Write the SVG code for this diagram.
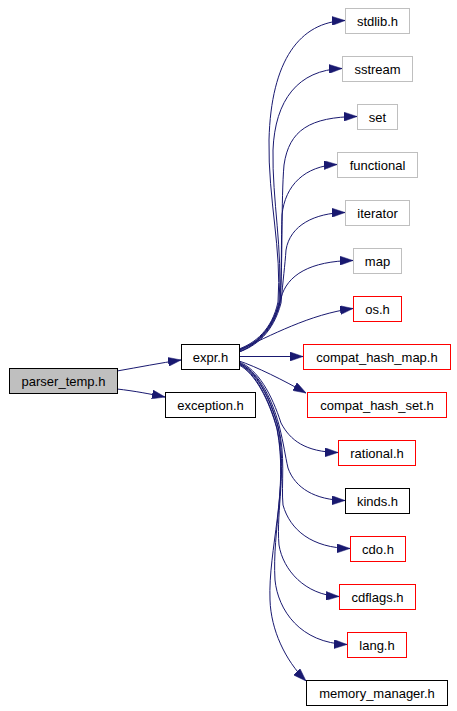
<svg xmlns="http://www.w3.org/2000/svg" width="457" height="711" viewBox="0 0 457 711">
<style>
.n rect{fill:#ffffff;stroke-width:1}
.k rect{stroke:#000000}
.g rect{stroke:#bfbfbf}
.r rect{stroke:#ff0000}
.root rect{fill:#bfbfbf;stroke:#000000}
text{font-family:"Liberation Sans",Arial,sans-serif;font-size:13px;fill:#000000;text-anchor:middle}
#edges path{fill:none;stroke:#191970;stroke-width:1;marker-end:url(#arr)}
</style>
<defs>
<marker id="arr" markerUnits="userSpaceOnUse" viewBox="0 0 13 9" markerWidth="13" markerHeight="9" refX="13" refY="4.5" orient="auto">
<path d="M0,0 L13,4.5 L0,9 Z" fill="#191970" stroke="#191970" stroke-width="0.5"/>
</marker>
</defs>
<rect width="457" height="711" fill="#ffffff"/>
<g id="edges">
<path d="M117,371 C140,367 160,363 181,360"/>
<path d="M117,389 C135,391 150,394 165,397"/>
<path d="M239,349 C255,343 272,330 278,302 C282,250 268,200 269,140 C271,60 300,22 345,20.5"/>
<path d="M239,350 C255,344 272,331 279,302 C283,250 272,200 273,150 C275,100 298,70 342,68.5"/>
<path d="M239,350 C256,344 273,331 280,302 C283,260 281,200 284,165 C289,130 310,117 357,116.5"/>
<path d="M239,351 C256,345 273,332 280,303 C282,270 281,240 282,215 C285,185 305,166 337,164.5"/>
<path d="M239,352 C256,346 273,333 281,303 C283,280 285,265 286,250 C290,225 315,213 345,212.5"/>
<path d="M239,352 C255,346 272,331 281,298 C287,275 310,261 353,260.5"/>
<path d="M239,350 C270,336 310,314 353,308.5"/>
<path d="M239,356.5 L303,356.5"/>
<path d="M239,361 C255,366 285,381 306,393"/>
<path d="M239,362 C258,369 272,395 281,423 C290,440 305,452 338,452.5"/>
<path d="M239,363 C257,370 271,396 279,425 C284,445 285,455 288,468 C295,488 315,500 345,500.5"/>
<path d="M239,363 C256,370 270,397 278,426 C286,455 281,485 283,505 C290,530 312,548 350,548.5"/>
<path d="M239,364 C256,371 270,398 278,427 C287,470 276,510 279,545 C283,570 305,595 339,596.5"/>
<path d="M239,364 C255,372 269,399 277,428 C288,480 272,530 275,580 C278,610 300,643 347,644.5"/>
<path d="M239,365 C255,373 269,400 277,429 C289,490 268,550 270,600 C271,630 285,660 306,681"/>
</g>
<g id="parser_temp" class="n root"><rect x="9.5" y="368.5" width="108" height="25"/><text x="63.5" y="386">parser_temp.h</text></g>
<g id="expr" class="n k"><rect x="181.5" y="344.5" width="58" height="25"/><text x="210.5" y="362">expr.h</text></g>
<g id="exception" class="n k"><rect x="165.5" y="392.5" width="90" height="25"/><text x="210.5" y="410">exception.h</text></g>
<g id="stdlib" class="n g"><rect x="345.5" y="8.5" width="64" height="25"/><text x="377.5" y="26">stdlib.h</text></g>
<g id="sstream" class="n g"><rect x="342.5" y="56.5" width="70" height="25"/><text x="377.5" y="74">sstream</text></g>
<g id="set" class="n g"><rect x="357.5" y="104.5" width="40" height="25"/><text x="377.5" y="122">set</text></g>
<g id="functional" class="n g"><rect x="337.5" y="152.5" width="80" height="25"/><text x="377.5" y="170">functional</text></g>
<g id="iterator" class="n g"><rect x="345.5" y="200.5" width="64" height="25"/><text x="377.5" y="218">iterator</text></g>
<g id="map" class="n g"><rect x="353.5" y="248.5" width="48" height="25"/><text x="377.5" y="266">map</text></g>
<g id="os" class="n r"><rect x="353.5" y="296.5" width="48" height="25"/><text x="377.5" y="314">os.h</text></g>
<g id="compat_hash_map" class="n r"><rect x="303.5" y="344.5" width="147" height="25"/><text x="377" y="362">compat_hash_map.h</text></g>
<g id="compat_hash_set" class="n r"><rect x="307.5" y="392.5" width="139" height="25"/><text x="377" y="410">compat_hash_set.h</text></g>
<g id="rational" class="n r"><rect x="338.5" y="440.5" width="77" height="25"/><text x="377" y="458">rational.h</text></g>
<g id="kinds" class="n k"><rect x="345.5" y="488.5" width="64" height="25"/><text x="377.5" y="506">kinds.h</text></g>
<g id="cdo" class="n r"><rect x="350.5" y="536.5" width="55" height="25"/><text x="378" y="554">cdo.h</text></g>
<g id="cdflags" class="n r"><rect x="339.5" y="584.5" width="76" height="25"/><text x="377.5" y="602">cdflags.h</text></g>
<g id="lang" class="n r"><rect x="347.5" y="632.5" width="59" height="25"/><text x="377" y="650">lang.h</text></g>
<g id="memory_manager" class="n k"><rect x="306.5" y="680.5" width="141" height="25"/><text x="377" y="698">memory_manager.h</text></g>
</svg>
